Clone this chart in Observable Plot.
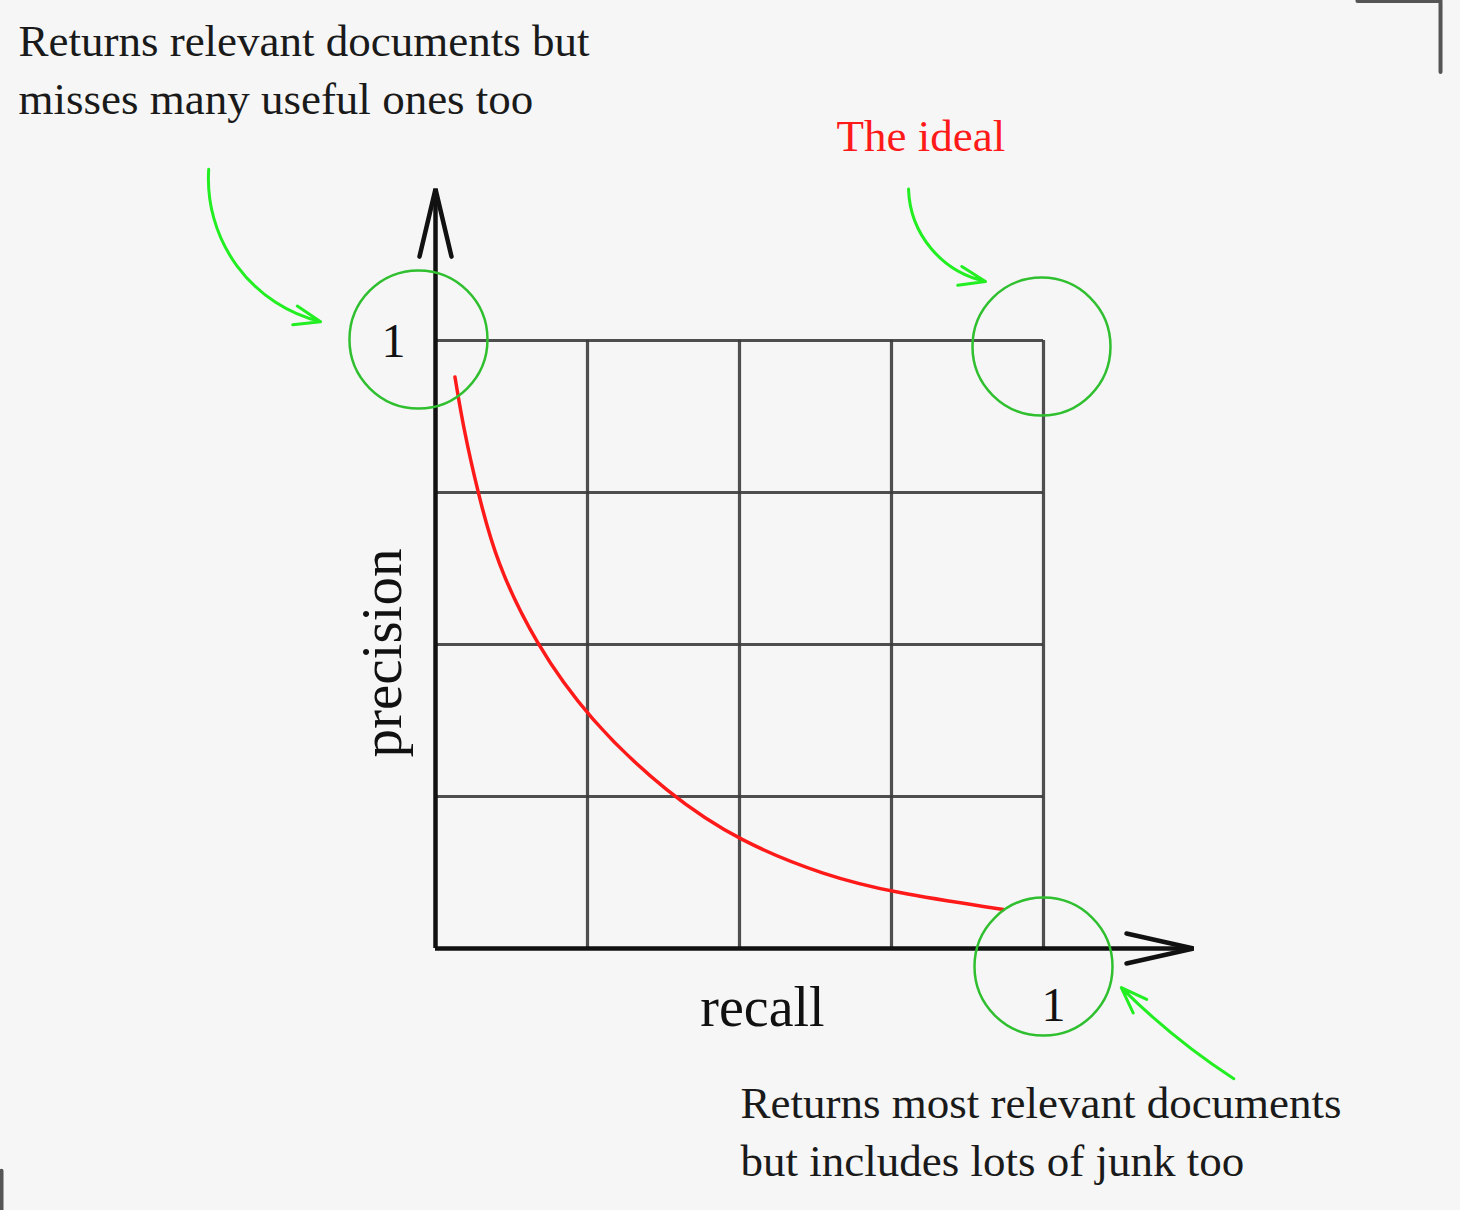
<!DOCTYPE html>
<html>
<head>
<meta charset="utf-8">
<script src="https://cdn.jsdelivr.net/npm/d3@7"></script>
<script src="https://cdn.jsdelivr.net/npm/@observablehq/plot@0.6"></script>
<style>
  html, body { margin: 0; padding: 0; background: #f6f6f6; }
  #chart svg { display: block; }
</style>
</head>
<body>
<div id="chart"></div>
<script>
// ---- data ----
const gridTicks = [0.25, 0.5, 0.75, 1];
const curveRecall    = [0.032, 0.046, 0.069, 0.100, 0.164, 0.252, 0.382, 0.502, 0.641, 0.752, 0.934];
const curvePrecision = [0.940, 0.856, 0.753, 0.635, 0.502, 0.377, 0.254, 0.175, 0.120, 0.092, 0.064];
const axisLabels = ["recall", "precision"];
const tickLabels = ["1", "1"];
const noteTopLeft = "Returns relevant documents but\nmisses many useful ones too";
const noteIdeal = "The ideal";
const noteBottom = "Returns most relevant documents\nbut includes lots of junk too";

const curve = curveRecall.map((r, i) => ({recall: r, precision: curvePrecision[i]}));

const gridColor = "#3c3c3c";
const green = "#2fbf2f";
const lime = "#22ee22";
const font = "Liberation Serif, Times New Roman, serif";

const chart = Plot.plot({
  width: 1460,
  height: 1210,
  x: {domain: [0, 1], range: [435, 1043], axis: null},
  y: {domain: [0, 1], range: [948, 340], axis: null},
  style: {background: "#f6f6f6", fontFamily: font, overflow: "visible"},
  marks: [
    // grid lines
    Plot.ruleX(gridTicks, {x: d => d, y1: 0, y2: 1, stroke: gridColor, strokeWidth: 3.2, strokeOpacity: 0.9}),
    Plot.ruleY(gridTicks, {y: d => d, x1: 0, x2: 1, stroke: gridColor, strokeWidth: 3.2, strokeOpacity: 0.9}),
    // axes
    Plot.ruleX([0], {x: d => d, y1: 0, y2: 1.249, stroke: "#111", strokeWidth: 4.5}),
    Plot.ruleY([0], {y: d => d, x1: 0, x2: 1.245, stroke: "#111", strokeWidth: 4.5}),
    // axis arrowheads
    Plot.line([[-0.0263, 1.138], [0, 1.249], [0.0263, 1.138]], {x: d => d[0], y: d => d[1], stroke: "#111", strokeWidth: 4.5, strokeLinejoin: "miter"}),
    Plot.line([[1.1365, 0.0247], [1.2467, 0], [1.1365, -0.0247]], {x: d => d[0], y: d => d[1], stroke: "#111", strokeWidth: 4.5, strokeLinejoin: "miter"}),
    // red precision-recall curve
    Plot.line(curve, {x: "recall", y: "precision", stroke: "#ff1a1a", strokeWidth: 3.5, curve: "basis"}),
    // green circles
    Plot.dot([[-0.028, 1.0016], [0.9967, 0.990], [1.0, -0.0297]], {x: d => d[0], y: d => d[1], r: 69, fill: "none", stroke: green, strokeWidth: 2.5}),
    // green arrows
    Plot.arrow([0], {x1: -0.373, y1: 1.2817, x2: -0.189, y2: 1.031, bend: -40, stroke: lime, strokeWidth: 3, headLength: 14, headAngle: 40}),
    Plot.arrow([0], {x1: 0.778, y1: 1.249, x2: 0.9046, y2: 1.0972, bend: -38, stroke: lime, strokeWidth: 3, headLength: 14, headAngle: 40}),
    Plot.arrow([0], {x1: 1.313, y1: -0.2142, x2: 1.128, y2: -0.0643, bend: 6, stroke: lime, strokeWidth: 3, headLength: 14, headAngle: 40}),
    // tick labels "1"
    Plot.text([tickLabels[0]], {x: -0.0691, y: 0.998, text: d => d, fontSize: 48, fill: "#111"}),
    Plot.text([tickLabels[1]], {x: 1.0164, y: -0.0939, text: d => d, fontSize: 48, fill: "#111"}),
    // axis labels
    Plot.text([axisLabels[0]], {x: 0.5378, y: -0.0988, text: d => d, fontSize: 56, fill: "#111"}),
    Plot.text([axisLabels[1]], {x: -0.0875, y: 0.486, text: d => d, fontSize: 57, rotate: -90, fill: "#111"}),
    // annotations
    Plot.text([noteTopLeft], {x: -0.686, y: 1.5354, text: d => d, fontSize: 45, lineAnchor: "top", textAnchor: "start", lineHeight: 1.29, fill: "#1a1a1a"}),
    Plot.text([noteIdeal], {x: 0.6595, y: 1.364, text: d => d, fontSize: 45, lineAnchor: "top", textAnchor: "start", fill: "#ff1a1a"}),
    Plot.text([noteBottom], {x: 0.5016, y: -0.2108, text: d => d, fontSize: 45, lineAnchor: "top", textAnchor: "start", lineHeight: 1.29, fill: "#1a1a1a"}),
    // page corner marks
    Plot.line([[1.5164, 1.5585], [1.653, 1.5585], [1.653, 1.4415]], {x: d => d[0], y: d => d[1], stroke: "#555", strokeWidth: 4}),
    Plot.line([[-0.7138, -0.3657], [-0.7138, -0.4316]], {x: d => d[0], y: d => d[1], stroke: "#555", strokeWidth: 4})
  ]
});
document.getElementById("chart").appendChild(chart);
</script>
</body>
</html>
